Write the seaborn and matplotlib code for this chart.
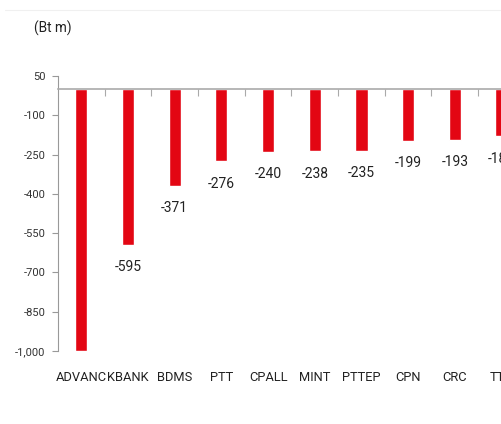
import matplotlib
matplotlib.use("Agg")
import matplotlib.pyplot as plt
import matplotlib.transforms as mtransforms
import numpy as np
import pandas as pd
import seaborn as sns

# net foreign selling by stock (Bt m)
stocks = ["ADVANC", "KBANK", "BDMS", "PTT", "CPALL", "MINT", "PTTEP", "CPN", "CRC", "TTB"]
values = [-1000, -595, -371, -276, -240, -238, -235, -199, -193, -181]
show_label = [False, True, True, True, True, True, True, True, True, True]
yticks = [50, -100, -250, -400, -550, -700, -850, -1000]

df = pd.DataFrame({"stock": stocks, "value": values})

sns.set_style("white")
plt.rcParams["font.family"] = ["Roboto", "DejaVu Sans"]

fig = plt.figure(figsize=(5.02, 4.24), dpi=100)
ax = fig.add_axes([0.1155, 0.1722, 0.93, 0.6486])

sns.barplot(data=df, x="stock", y="value", color="#E30613", saturation=1,
            width=0.26, ax=ax)

ax.set_xlim(-0.5, 9.5)
ax.set_ylim(-1000, 50)
ax.set_yticks(yticks)
ax.set_yticklabels([f"{t:,}" for t in yticks], fontsize=8, color="#333333")
ax.tick_params(axis="y", length=4, width=0.8, color="#999999", pad=5, left=True)

# zero line with small ticks between categories
ax.spines["bottom"].set_position(("data", 0))
ax.spines["bottom"].set_color("#aaaaaa")
ax.spines["bottom"].set_linewidth(1.2)
ax.spines["left"].set_color("#999999")
ax.spines["left"].set_linewidth(0.8)
ax.spines["top"].set_visible(False)
ax.spines["right"].set_visible(False)
ax.set_xticks(np.arange(len(stocks)) + 0.5, minor=True)
ax.tick_params(axis="x", which="minor", length=5, width=0.8, color="#aaaaaa",
               direction="out", bottom=True)
ax.tick_params(axis="x", which="major", length=0, labelbottom=False)
ax.set_xlabel("")
ax.set_ylabel("")

trans = mtransforms.blended_transform_factory(ax.transData, ax.transAxes)
for i, s in enumerate(stocks):
    ax.text(i, -0.098, s, transform=trans, ha="center", va="center",
            fontsize=9.3, color="#222222")

for i, (v, show) in enumerate(zip(values, show_label)):
    if show:
        ax.annotate(f"{v}", xy=(i, v), xytext=(0, -16), textcoords="offset points",
                    ha="center", va="center", fontsize=10, color="#222222")

fig.text(0.068, 0.934, "(Bt m)", fontsize=9.8, color="#222222", ha="left", va="center")

# faint frame line at the top of the panel
fig.add_artist(plt.Line2D([0.01, 1.0], [0.976, 0.976], transform=fig.transFigure,
                          color="#f0f0f0", linewidth=0.8))

fig.savefig("out.png", dpi=100)
